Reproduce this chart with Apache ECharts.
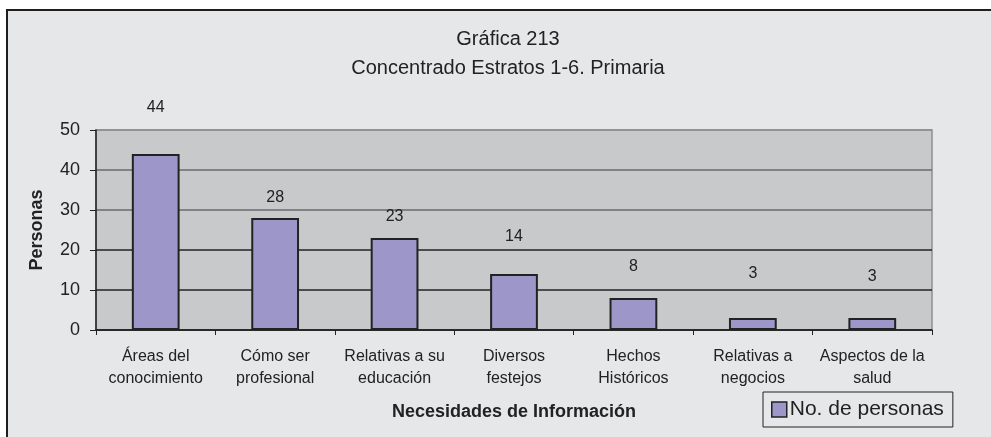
<!DOCTYPE html>
<html>
<head>
<meta charset="utf-8">
<script src="https://cdn.jsdelivr.net/npm/echarts@6/dist/echarts.min.js"></script>
<style>
  html, body { margin: 0; padding: 0; background: #ffffff; }
  #chart { width: 991px; height: 437px; }
</style>
</head>
<body>
<div id="chart"></div>
<script>
// Categories (information needs) and number of people per category
const categories = [
  'Áreas del\nconocimiento',
  'Cómo ser\nprofesional',
  'Relativas a su\neducación',
  'Diversos\nfestejos',
  'Hechos\nHistóricos',
  'Relativas a\nnegocios',
  'Aspectos de la\nsalud'
];
const personas = [44, 28, 23, 14, 8, 3, 3];
const yTicks = [0, 10, 20, 30, 40, 50];

// Gap between each bar top and its value label (style only)
const labelGap = [38, 12, 13, 29, 23, 36, 33];

const FONT = '"Liberation Sans", Arial, sans-serif';

const chart = echarts.init(document.getElementById('chart'), null, { renderer: 'canvas' });

chart.setOption({
  backgroundColor: '#ffffff',
  animation: false,
  graphic: [{
    type: 'rect',
    z: -10,
    shape: { x: 7, y: 10, width: 1000, height: 450 },
    style: { fill: '#e6e7e9', stroke: '#1e1e1e', lineWidth: 2 }
  }],
  title: {
    text: 'Gráfica 213\nConcentrado Estratos 1-6. Primaria',
    left: 503,
    textAlign: 'center',
    top: 20,
    textStyle: {
      fontFamily: FONT,
      fontSize: 20,
      fontWeight: 'normal',
      color: '#222',
      lineHeight: 29
    }
  },
  legend: {
    left: 763,
    top: 392,
    orient: 'horizontal',
    itemWidth: 15,
    itemHeight: 15,
    itemGap: 0,
    padding: [7, 9, 7, 8],
    borderColor: '#222',
    borderWidth: 1,
    icon: 'rect',
    textStyle: { fontFamily: FONT, fontSize: 21, color: '#222', padding: [0, 0, 0, -2] },
    data: [{ name: 'No. de personas', itemStyle: { borderColor: '#222', borderWidth: 1.5 } }]
  },
  grid: {
    left: 96,
    right: 59,
    top: 130,
    bottom: 107,
    show: true,
    backgroundColor: '#c8c9cb',
    borderColor: '#8f8f8f',
    borderWidth: 1.5
  },
  xAxis: {
    type: 'category',
    data: categories,
    boundaryGap: true,
    name: 'Necesidades de Información',
    nameLocation: 'middle',
    nameGap: 73,
    nameTextStyle: { fontFamily: FONT, fontSize: 18, fontWeight: 'bold', color: '#222' },
    axisLine: { show: true, lineStyle: { color: '#222', width: 1.5 } },
    axisTick: { show: true, length: 5, inside: false, lineStyle: { color: '#222' } },
    axisLabel: {
      interval: 0,
      margin: 16,
      fontFamily: FONT,
      fontSize: 16,
      color: '#222',
      lineHeight: 22
    }
  },
  yAxis: {
    type: 'value',
    min: yTicks[0],
    max: yTicks[yTicks.length - 1],
    interval: 10,
    name: 'Personas',
    nameLocation: 'middle',
    nameRotate: 90,
    nameGap: 50,
    nameTextStyle: { fontFamily: FONT, fontSize: 18, fontWeight: 'bold', color: '#222' },
    axisLine: { show: true, lineStyle: { color: '#222', width: 1.5 } },
    axisTick: { show: true, length: 6, inside: false, lineStyle: { color: '#222' } },
    axisLabel: { margin: 16, fontFamily: FONT, fontSize: 18, color: '#222' },
    splitLine: {
      show: true,
      lineStyle: { color: ['#222', '#222', '#222', '#6a6a6a', '#6a6a6a', '#8f8f8f'], width: 1.5 }
    }
  },
  series: [{
    name: 'No. de personas',
    type: 'bar',
    barWidth: '40%',
    z: 3,
    itemStyle: { color: '#9d96c8', borderColor: '#222', borderWidth: 2 },
    label: {
      show: true,
      position: 'top',
      fontFamily: FONT,
      fontSize: 16,
      color: '#222'
    },
    data: personas.map((v, i) => ({ value: v, label: { distance: labelGap[i] } }))
  }]
});
</script>
</body>
</html>
